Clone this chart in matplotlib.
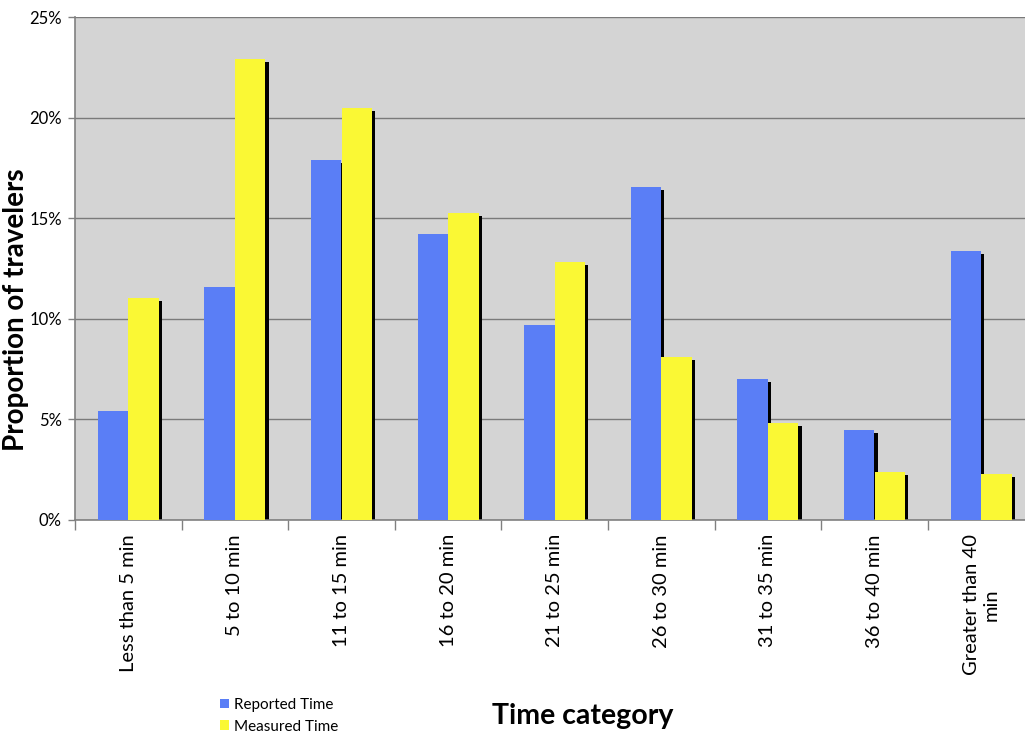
import matplotlib
matplotlib.use("Agg")
import matplotlib.pyplot as plt
from matplotlib.patches import Patch
import numpy as np

categories = ["Less than 5 min", "5 to 10 min", "11 to 15 min", "16 to 20 min",
              "21 to 25 min", "26 to 30 min", "31 to 35 min", "36 to 40 min",
              "Greater than 40\nmin"]
reported = [5.4, 11.6, 17.9, 14.2, 9.7, 16.55, 7.0, 4.45, 13.35]
measured = [11.05, 22.9, 20.5, 15.25, 12.8, 8.1, 4.8, 2.4, 2.3]
series_names = ["Reported Time", "Measured Time"]
yticks = [0, 5, 10, 15, 20, 25]

blue = "#5A7EF6"
yellow = "#FAF834"
font = "Lato"

fig = plt.figure(figsize=(10.25, 7.35), dpi=100)
ax = fig.add_axes([75 / 1025, 1 - 520 / 735, 9 * 106.6 / 1025, 503 / 735])
ax.set_facecolor("#D4D4D4")

x = np.arange(len(categories)) + 0.5
w = 0.285
off = 0.143
sx = 0.03      # shadow shift to the right
sy = 0.15      # shadow drop below the bar top

r = np.array(reported)
m = np.array(measured)
# drop shadows
ax.bar(x - off + sx, r - sy, width=w, color="black", zorder=2)
ax.bar(x + off + sx, m - sy, width=w, color="black", zorder=2)
# main bars
ax.bar(x - off, r, width=w, color=blue, zorder=3)
ax.bar(x + off, m, width=w, color=yellow, zorder=4)

ax.set_xlim(0, len(categories))
ax.set_ylim(0, 25)
ax.set_yticks(yticks)
ax.set_yticklabels([f"{v}%" for v in yticks], fontsize=12, family=font)
ax.yaxis.grid(True, color="#7A7A7A", linewidth=1.0, zorder=1)
ax.set_axisbelow(True)

ax.set_xticks(np.arange(len(categories) + 1))
ax.set_xticklabels([])
ax.tick_params(axis="x", direction="out", length=7, color="#808080", width=1)
ax.tick_params(axis="y", direction="out", length=5, color="#808080", width=1, pad=4.5)

for xi, lab in zip(x, categories):
    ax.text(xi, -0.7, lab, rotation=90, ha="center", va="top",
            fontsize=14.5, family=font, transform=ax.transData,
            multialignment="center")

for s in ["top", "right"]:
    ax.spines[s].set_visible(False)
for s in ["left", "bottom"]:
    ax.spines[s].set_color("#808080")
    ax.spines[s].set_linewidth(1.2)

fig.text(16 / 1025, 1 - 310 / 735, "Proportion of travelers", rotation=90,
         ha="center", va="center", fontsize=20, fontweight="bold", family=font)
fig.text(583 / 1025, 1 - 716 / 735, "Time category", ha="center", va="center",
         fontsize=20.5, fontweight="bold", family=font)

handles = [Patch(facecolor=blue, edgecolor="none"),
           Patch(facecolor=yellow, edgecolor="none")]
fig.legend(handles, series_names, loc="upper left",
           bbox_to_anchor=(220 / 1025, 1 - 698 / 735), frameon=False,
           prop={"family": font, "size": 11}, handlelength=0.6,
           handleheight=0.6, handletextpad=0.3, labelspacing=0.5,
           borderaxespad=0, borderpad=0)

fig.savefig("out.png", dpi=100, facecolor="white")
